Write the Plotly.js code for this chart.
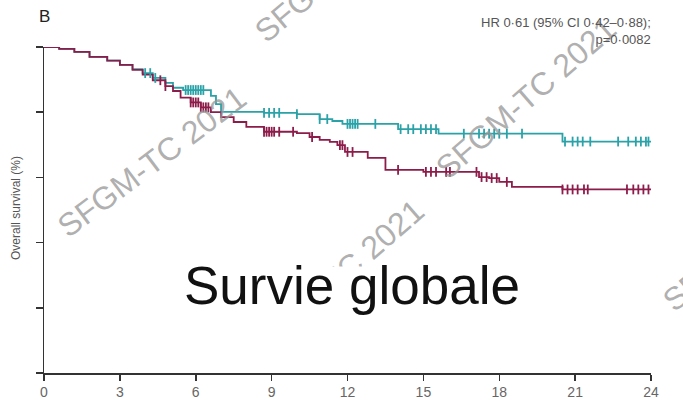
<!DOCTYPE html>
<html>
<head>
<meta charset="utf-8">
<script src="https://cdn.plot.ly/plotly-3.0.1.min.js"></script>
<style>
html,body{margin:0;padding:0;background:#fff;overflow:hidden;}
#chart{width:683px;height:402px;}
</style>
</head>
<body>
<div id="chart"></div>
<script>
// ---- Data (months, overall survival %) ----
var tealTimes = [0, 0.6, 1.2, 1.8, 2.5, 3.0, 3.5, 3.9, 4.3, 4.8, 5.1, 5.5, 6.6, 6.8, 7.0, 8.7, 10.0, 10.9, 11.4, 11.8, 14.0, 15.6, 20.5, 24];
var tealSurv  = [100, 99.4, 98.5, 97.0, 95.8, 94.5, 93.2, 92.0, 90.5, 89.0, 87.5, 86.8, 85.0, 82.5, 80.1, 79.8, 79.4, 77.9, 77.3, 76.4, 74.8, 73.4, 71.0, 71.0];
var tealCensored = [4.0, 4.2, 4.4, 5.6, 5.7, 5.8, 5.9, 6.0, 6.1, 6.2, 6.3, 8.7, 8.9, 9.1, 9.3, 10.0, 10.9, 11.2, 12.0, 12.1, 12.2, 12.3, 12.4, 13.1, 14.1, 14.4, 14.6, 14.9, 15.1, 15.3, 15.5, 16.6, 17.2, 17.4, 17.6, 17.8, 18.0, 18.3, 18.9, 20.6, 20.9, 21.1, 21.3, 21.6, 22.7, 23.1, 23.4, 23.6, 23.8, 23.9];

var crimTimes = [0, 0.6, 1.2, 1.8, 2.5, 3.0, 3.5, 3.9, 4.3, 4.8, 5.1, 5.4, 5.8, 6.2, 6.6, 7.0, 7.5, 8.0, 8.7, 10.0, 10.5, 10.9, 11.3, 11.6, 11.9, 12.8, 13.5, 15.0, 17.2, 17.6, 18.0, 18.5, 20.5, 24];
var crimSurv  = [100, 99.4, 98.5, 97.0, 95.8, 94.5, 93.0, 91.5, 89.8, 88.0, 86.5, 84.5, 83.0, 81.5, 80.0, 78.5, 77.0, 75.5, 74.0, 73.6, 72.4, 71.5, 70.9, 69.9, 67.8, 66.0, 62.3, 61.7, 60.1, 59.8, 58.6, 57.1, 56.3, 56.3];
var crimCensored = [4.6, 4.8, 5.8, 5.9, 6.0, 6.1, 6.2, 6.3, 6.4, 6.5, 8.7, 8.8, 8.9, 9.0, 9.1, 9.3, 9.85, 10.6, 11.7, 11.8, 12.0, 12.2, 14.0, 15.1, 15.3, 15.5, 15.9, 16.05, 17.1, 17.3, 17.5, 17.7, 17.9, 18.3, 20.5, 20.7, 20.9, 21.1, 21.35, 21.5, 23.05, 23.3, 23.5, 23.7, 23.9];

var xTicks = [0, 3, 6, 9, 12, 15, 18, 21, 24];
var yTicks = [0, 20, 40, 60, 80, 100];

var panelLabel = "B";
var statsText = "HR 0·61 (95% CI 0·42–0·88);<br>p=0·0082";
var chartLabel = "Survie globale";
var yTitle = "Overall survival (%)";
var watermark = "SFGM-TC 2021";

// step-function lookup (value of KM curve at time t)
function stepAt(times, surv, t){
  var v = surv[0];
  for (var i = 0; i < times.length; i++){ if (times[i] <= t) v = surv[i]; }
  return v;
}

var TEAL = '#2aa2a8', CRIM = '#8c1c4a';

var traces = [
  {x: tealTimes, y: tealSurv, mode: 'lines', line: {shape: 'hv', color: TEAL, width: 1.8}, hoverinfo: 'skip'},
  {x: crimTimes, y: crimSurv, mode: 'lines', line: {shape: 'hv', color: CRIM, width: 1.8}, hoverinfo: 'skip'},
  {x: tealCensored, y: tealCensored.map(function(t){return stepAt(tealTimes, tealSurv, t);}),
   mode: 'markers', marker: {symbol: 'line-ns-open', size: 7, color: TEAL, line: {color: TEAL, width: 1.8}}, hoverinfo: 'skip'},
  {x: crimCensored, y: crimCensored.map(function(t){return stepAt(crimTimes, crimSurv, t);}),
   mode: 'markers', marker: {symbol: 'line-ns-open', size: 7, color: CRIM, line: {color: CRIM, width: 1.8}}, hoverinfo: 'skip'}
];

// pixel -> paper helpers (plot area: left 44, right 651, top 47, bottom 373)
var L = 44, R = 651, T = 47, B = 373;
function px(x){ return (x - L) / (R - L); }
function py(y){ return (B - y) / (B - T); }

function wm(cx, cy, ang){
  return {xref: 'paper', yref: 'paper', x: px(cx), y: py(cy), xanchor: 'center', yanchor: 'middle',
          text: watermark, showarrow: false, textangle: ang,
          font: {family: 'Liberation Sans, Arial, sans-serif', size: 32, color: 'rgba(150,150,150,0.75)'}};
}

var annotations = [
  wm(152, 162, -37),
  wm(526, 98, -41),
  wm(346, -37, -40),
  wm(334, 280, -41),
  wm(754, 232, -40),
  // white panel behind the "Survie globale" label (covers the watermark beneath it)
  {xref: 'paper', yref: 'paper', x: px(352), y: py(266), xanchor: 'center', yanchor: 'top',
   text: ' ', showarrow: false, width: 370, height: 104, bgcolor: '#ffffff', borderpad: 0,
   font: {size: 10, color: '#fff'}},
  {xref: 'paper', yref: 'paper', x: px(352), y: py(285), xanchor: 'center', yanchor: 'middle',
   text: chartLabel, showarrow: false,
   font: {family: 'Liberation Sans, Arial, sans-serif', size: 53, color: '#111'}},
  {xref: 'paper', yref: 'paper', x: px(37), y: py(16), xanchor: 'left', yanchor: 'middle',
   text: panelLabel, showarrow: false,
   font: {family: 'Liberation Sans Narrow, Liberation Sans, Arial, sans-serif', size: 17, color: '#222'}},
  {xref: 'paper', yref: 'paper', x: px(653), y: py(31), xanchor: 'right', yanchor: 'middle', align: 'right',
   text: statsText, showarrow: false,
   font: {family: 'Liberation Sans Narrow, Liberation Sans, Arial, sans-serif', size: 13, color: '#555'}},
  {xref: 'paper', yref: 'paper', x: px(16), y: py(208), xanchor: 'center', yanchor: 'middle',
   text: yTitle, showarrow: false, textangle: -90,
   font: {family: 'Liberation Sans Narrow, Liberation Sans, Arial, sans-serif', size: 12, color: '#555'}}
];

var layout = {
  width: 683, height: 402,
  margin: {l: L, r: 683 - R, t: T, b: 402 - B, pad: 0},
  paper_bgcolor: '#fff', plot_bgcolor: '#fff',
  showlegend: false,
  xaxis: {range: [0, 24], tickvals: xTicks, ticktext: xTicks.map(String),
          showgrid: false, zeroline: false, showline: true, linecolor: '#333', linewidth: 1.5,
          ticks: 'outside', ticklen: 6, tickwidth: 1.5, tickcolor: '#333',
          tickfont: {family: 'Liberation Sans Narrow, Liberation Sans, Arial, sans-serif', size: 14, color: '#666'}},
  yaxis: {range: [0, 100], tickvals: yTicks, showticklabels: false,
          showgrid: false, zeroline: false, showline: true, linecolor: '#333', linewidth: 1.5,
          ticks: 'outside', ticklen: 7, tickwidth: 1.5, tickcolor: '#333'},
  annotations: annotations
};

Plotly.newPlot('chart', traces, layout, {staticPlot: true, displayModeBar: false});
</script>
</body>
</html>
